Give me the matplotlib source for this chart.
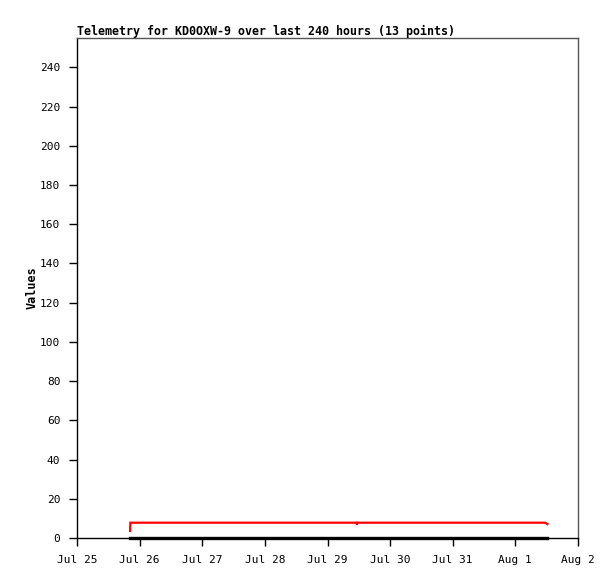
import matplotlib
matplotlib.use("Agg")
import matplotlib.pyplot as plt
import matplotlib.dates as mdates
from datetime import datetime, timedelta

# telemetry samples (13 points), hours after Jul 25 00:00
hours = [20.35, 20.45, 38.4, 55.2, 74.4, 93.6, 107.1, 107.3, 107.5, 127.2, 148.8, 179.4, 180.3]
red_vals = [3.6, 7.8, 7.8, 7.8, 7.8, 7.8, 7.8, 6.8, 7.8, 7.8, 7.8, 7.8, 7.1]
black_vals = [0, 0, 0, 0, 0, 0, 0, 0, 0, 0, 0, 0, 0]

start = datetime(2024, 7, 25)
times = [start + timedelta(hours=h) for h in hours]
xticks = [start + timedelta(days=d) for d in range(9)]
xlabels = ["Jul 25", "Jul 26", "Jul 27", "Jul 28", "Jul 29", "Jul 30", "Jul 31", "Aug 1", "Aug 2"]
yticks = list(range(0, 241, 20))

fig = plt.figure(figsize=(6.15, 5.79), dpi=100)
ax = fig.add_axes([77/615, 1 - 538/579, 501/615, 500/579])

ax.plot(times, red_vals, color="#ff0000", lw=1.6, solid_joinstyle="miter")
ax.plot(times, black_vals, color="black", lw=2.4, clip_on=False)

ax.set_xlim(xticks[0], xticks[-1])
ax.set_ylim(0, 255)
ax.set_xticks(xticks)
ax.set_xticklabels(xlabels)
ax.set_yticks(yticks)

mono = "DejaVu Sans Mono"
for lab in ax.get_xticklabels() + ax.get_yticklabels():
    lab.set_family(mono)
    lab.set_fontsize(8)
ax.tick_params(direction="out", length=6, width=1, top=False, right=False, pad=6)

ax.set_ylabel("Values", family=mono, fontsize=8.5, fontweight="bold", labelpad=1)
ax.set_title("Telemetry for KD0OXW-9 over last 240 hours (13 points)",
             family=mono, fontsize=8.4, fontweight="bold", loc="left", pad=2)

for s in ax.spines.values():
    s.set_linewidth(1)
ax.spines["top"].set_color("#555555")
ax.spines["right"].set_color("#555555")

fig.savefig("out.png", dpi=100)
